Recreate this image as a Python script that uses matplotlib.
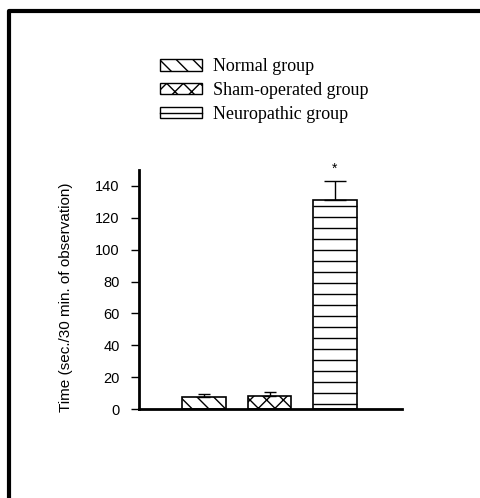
import numpy as np
import matplotlib.pyplot as plt
import matplotlib.lines as mlines
from matplotlib.patches import Patch
from matplotlib.legend_handler import HandlerTuple

plt.rcParams['hatch.linewidth'] = 1.0

groups = ['Normal group', 'Sham-operated group', 'Neuropathic group']
means = [7.5, 8.2, 131.2]
errs = [1.7, 2.3, 12.1]
hatches = ['\\\\', 'xx', '']
yticks = [0, 20, 40, 60, 80, 100, 120, 140]

fig = plt.figure(figsize=(4.8, 4.98), dpi=100)
ax = fig.add_axes([139 / 480, 1 - 409 / 498, (402 - 139) / 480, (409 - 170) / 498])

xs = [0, 1, 2]
width = 0.67
for x, m, h in zip(xs, means, hatches):
    ax.bar(x, m, width=width, color='white', edgecolor='black', hatch=h,
           linewidth=1.2)
# horizontal stripes of the neuropathic bar, spaced like the original
stripes = np.arange(3.2, means[2] - 3, 6.9)
ax.hlines(stripes, xs[2] - width / 2, xs[2] + width / 2, color='black', lw=1)

caps = [4, 4, 8]
for x, m, e, c in zip(xs, means, errs, caps):
    ax.errorbar(x, m, yerr=[[0], [e]], fmt='none', ecolor='black',
                elinewidth=1, capsize=c, capthick=1)
ax.text(2, means[2] + errs[2] + 3, '*', ha='center', va='bottom',
        fontsize=10, family='Liberation Sans')

ax.set_xlim(-1.0, 3.03)
ax.set_ylim(0, 150)
ax.set_yticks(yticks)
ax.set_xticks([])
for s in ['top', 'right']:
    ax.spines[s].set_visible(False)
ax.spines['left'].set_linewidth(2)
ax.spines['bottom'].set_linewidth(2)
ax.tick_params(axis='y', direction='out', length=6, width=1, pad=8,
               labelsize=10.5)
for lab in ax.get_yticklabels():
    lab.set_family('Liberation Sans')
ax.set_ylabel('Time (sec./30 min. of observation)', family='Liberation Sans',
              fontsize=11)
ax.yaxis.set_label_coords(-0.251, 0.469)

h_normal = Patch(facecolor='white', edgecolor='black', hatch='\\\\', linewidth=1)
h_sham = Patch(facecolor='white', edgecolor='black', hatch='xx', linewidth=1)
h_neuro = (Patch(facecolor='white', edgecolor='black', linewidth=1),
           mlines.Line2D([], [], color='black', lw=1))
fig.legend([h_normal, h_sham, h_neuro], groups, loc='upper left',
           bbox_to_anchor=(144 / 480, 1 - 42 / 498), frameon=False,
           prop={'family': 'Liberation Serif', 'size': 13},
           handlelength=2.33, handleheight=0.6, labelspacing=0.38,
           handletextpad=0.6,
           handler_map={tuple: HandlerTuple(ndivide=1, pad=0)})

fig.add_artist(mlines.Line2D([9 / 480, 9 / 480, 1], [0, 1 - 11 / 498, 1 - 11 / 498],
                             transform=fig.transFigure, color='black', lw=3))

plt.savefig('out.png', dpi=100)
